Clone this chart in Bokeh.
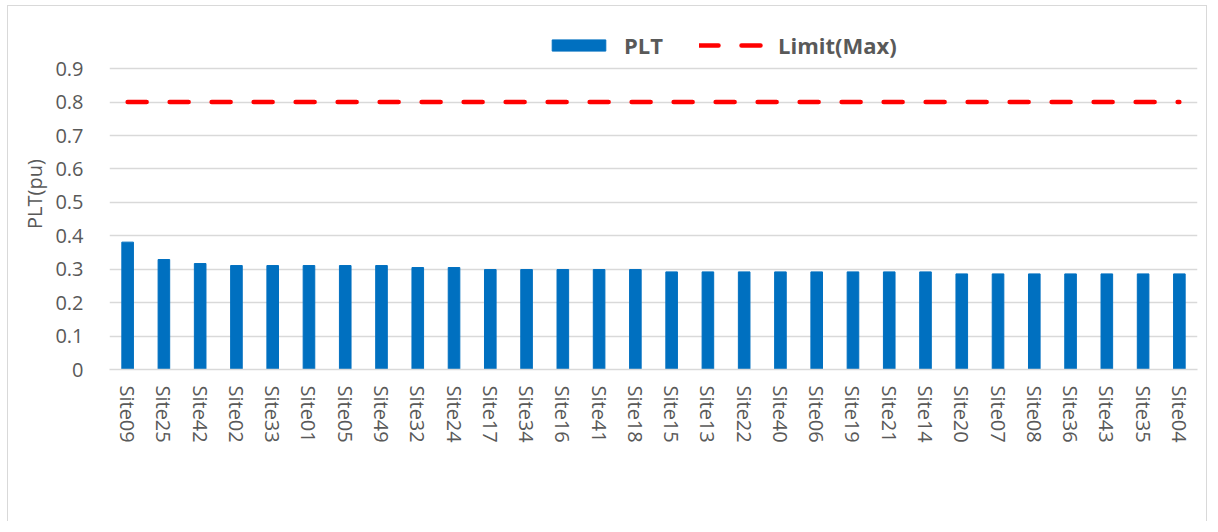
from bokeh.plotting import figure
from bokeh.models import ColumnDataSource, FixedTicker, PrintfTickFormatter, Legend, LegendItem, Range1d, FactorRange
from bokeh.embed import file_html
from bokeh.resources import INLINE

sites = ["Site09", "Site25", "Site42", "Site02", "Site33", "Site01", "Site05", "Site49",
         "Site32", "Site24", "Site17", "Site34", "Site16", "Site41", "Site18", "Site15",
         "Site13", "Site22", "Site40", "Site06", "Site19", "Site21", "Site14", "Site20",
         "Site07", "Site08", "Site36", "Site43", "Site35", "Site04"]
plt_values = [0.381, 0.329, 0.317, 0.311, 0.311, 0.311, 0.311, 0.311,
              0.305, 0.305, 0.299, 0.299, 0.299, 0.299, 0.299, 0.292,
              0.292, 0.292, 0.292, 0.292, 0.292, 0.292, 0.292, 0.286,
              0.286, 0.286, 0.286, 0.286, 0.286, 0.286]
limit_values = [0.8] * len(sites)
y_ticks = [0, 0.1, 0.2, 0.3, 0.4, 0.5, 0.6, 0.7, 0.8, 0.9]

src = ColumnDataSource(dict(site=sites, plt=plt_values, limit=limit_values))

TXT = "#595959"
FONT = "Open Sans"

p = figure(x_range=FactorRange(*sites, range_padding=0), y_range=Range1d(0, 1.05),
           width=1200, height=516, output_backend="svg", toolbar_location=None,
           min_border_left=101, min_border_right=11, min_border_top=12, min_border_bottom=153)
p.styles = {"border-top": "1px solid #D9D9D9", "border-left": "1px solid #D9D9D9",
            "border-right": "1px solid #D9D9D9", "margin-left": "7px", "margin-top": "5px"}
p.outline_line_color = None
p.background_fill_color = "white"
p.border_fill_color = "white"

bars = p.vbar(x="site", top="plt", width=0.32, source=src, fill_color="#0070C0", line_color="#0070C0")
lim = p.line(x="site", y="limit", source=src, line_color="#FF0000", line_width=4.5,
             line_dash="19 23", line_cap="round")

p.xgrid.grid_line_color = None
p.ygrid.grid_line_color = "#D9D9D9"
p.ygrid.grid_line_width = 1.3

p.yaxis.ticker = FixedTicker(ticks=y_ticks)
p.yaxis.formatter = PrintfTickFormatter(format="%g")
for ax in (p.xaxis[0], p.yaxis[0]):
    ax.major_tick_line_color = None
    ax.minor_tick_line_color = None
    ax.major_label_text_font = FONT
    ax.major_label_text_font_size = "20px"
    ax.major_label_text_color = TXT
    ax.axis_label_text_font = FONT
    ax.axis_label_text_color = TXT
p.yaxis.axis_line_color = None
p.xaxis.axis_line_color = "#D9D9D9"
p.xaxis.axis_line_width = 1.3
p.yaxis.major_label_standoff = 20
p.xaxis.major_label_standoff = 10
p.xaxis.major_label_orientation = -1.5707963
p.yaxis.axis_label = "PLT(pu)"
p.yaxis.axis_label_text_font_size = "20px"
p.yaxis.axis_label_text_font_style = "normal"
p.yaxis.axis_label_standoff = 4

legend = Legend(items=[LegendItem(label="PLT", renderers=[bars]),
                       LegendItem(label="Limit(Max)", renderers=[lim])],
                orientation="horizontal", location=(436, 309),
                label_text_font=FONT, label_text_font_size="22px", label_text_font_style="bold",
                label_text_color=TXT, glyph_width=67, glyph_height=14, spacing=36,
                border_line_color=None, background_fill_alpha=0, padding=5, margin=0,
                label_standoff=12)
p.add_layout(legend, "center")

open("out.html", "w").write(file_html(p, INLINE))
